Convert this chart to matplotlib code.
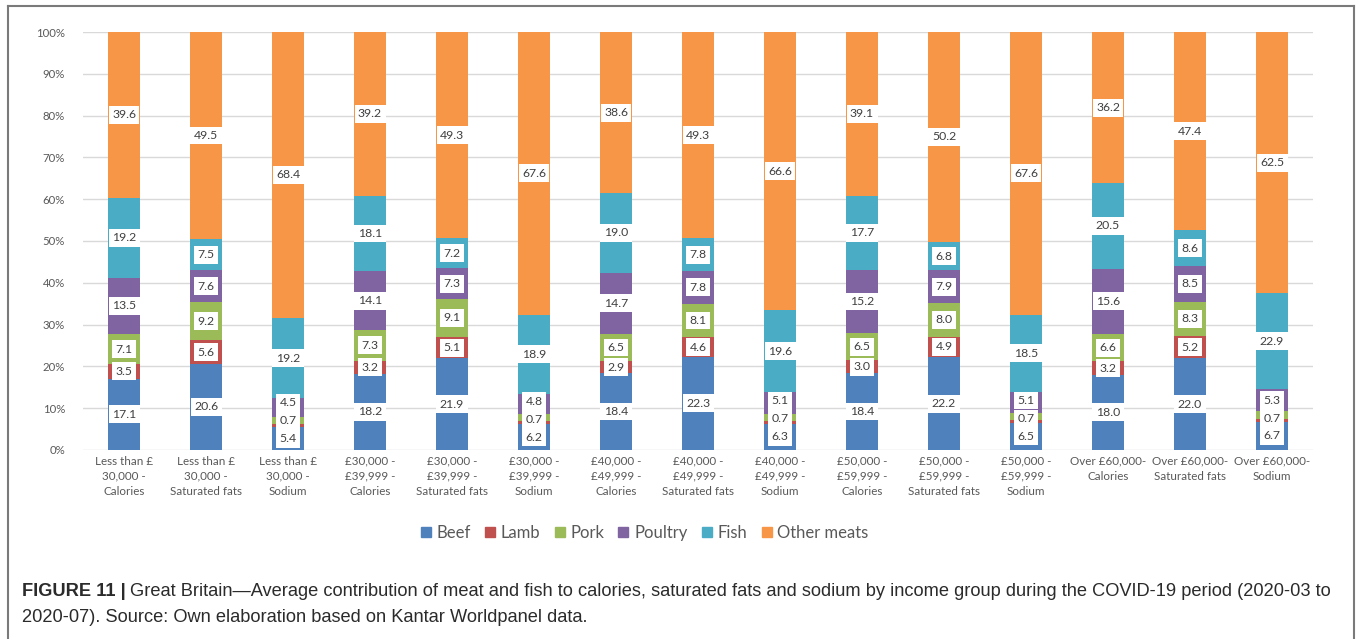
import matplotlib.pyplot as plt
import numpy as np
from matplotlib.patches import Patch
from matplotlib.lines import Line2D

plt.rcParams['font.family'] = ['Lato', 'DejaVu Sans']

groups = ["Less than £\n30,000 -", "£30,000 -\n£39,999 -", "£40,000 -\n£49,999 -",
          "£50,000 -\n£59,999 -", "Over £60,000-"]
nutrients = ["Calories", "Saturated fats", "Sodium"]
categories = [g + "\n" + n for g in groups for n in nutrients]

series = ["Beef", "Lamb", "Pork", "Poultry", "Fish", "Other meats"]
beef = [17.1, 20.6, 5.4, 18.2, 21.9, 6.2, 18.4, 22.3, 6.3, 18.4, 22.2, 6.5, 18.0, 22.0, 6.7]
lamb = [3.5, 5.6, 0.7, 3.2, 5.1, 0.7, 2.9, 4.6, 0.7, 3.0, 4.9, 0.7, 3.2, 5.2, 0.7]
pork = [7.1, 9.2, 1.8, 7.3, 9.1, 1.8, 6.5, 8.1, 1.7, 6.5, 8.0, 1.6, 6.6, 8.3, 1.9]
poultry = [13.5, 7.6, 4.5, 14.1, 7.3, 4.8, 14.7, 7.8, 5.1, 15.2, 7.9, 5.1, 15.6, 8.5, 5.3]
fish = [19.2, 7.5, 19.2, 18.1, 7.2, 18.9, 19.0, 7.8, 19.6, 17.7, 6.8, 18.5, 20.5, 8.6, 22.9]
other = [39.6, 49.5, 68.4, 39.2, 49.3, 67.6, 38.6, 49.3, 66.6, 39.1, 50.2, 67.6, 36.2, 47.4, 62.5]
colors = ["#4f81bd", "#c0504d", "#9bbb59", "#8064a2", "#4bacc6", "#f79646"]

# pork label is not shown on the sodium bars
show_label = np.ones((6, len(categories)), dtype=bool)
show_label[2] = [n != "Sodium" for g in groups for n in nutrients]

data = np.array([beef, lamb, pork, poultry, fish, other])
pct = data / data.sum(axis=0) * 100  # 100% stacked
x = np.arange(len(categories))

fig = plt.figure(figsize=(13.57, 6.39), dpi=100)
ax = fig.add_axes([0.0612, 0.2958, 0.9064, 0.6541])

bottom = np.zeros(len(categories))
for i in range(6):
    ax.bar(x, pct[i], 0.40, bottom=bottom, color=colors[i], zorder=2)
    bottom += pct[i]

# data labels in white boxes, nudged upwards so boxes don't overlap
gap = 4.3
for j in x:
    base = 0.0
    last = -100.0
    for i in range(6):
        c = base + pct[i, j] / 2
        base += pct[i, j]
        if not show_label[i, j]:
            continue
        c = max(c, last + gap)
        last = c
        ax.text(j, c, f"{data[i, j]:.1f}", ha='center', va='center', fontsize=8.8,
                color='#404040', zorder=4,
                bbox=dict(boxstyle='square,pad=0.28', fc='white', ec='none'))

ax.set_xlim(-0.5, len(categories) - 0.5)
ax.set_ylim(0, 100)
ax.set_yticks(np.arange(0, 101, 10))
ax.set_yticklabels([f"{v}%" for v in range(0, 101, 10)], fontsize=8.2, color='#595959')
ax.set_xticks(x)
ax.set_xticklabels(categories, fontsize=8.4, color='#595959', linespacing=1.45)
ax.tick_params(length=0, pad=4)
ax.tick_params(axis='y', pad=13)
ax.grid(axis='y', color='#d9d9d9', lw=1, zorder=0)
for s in ax.spines.values():
    s.set_visible(False)

handles = [Patch(color=c, label=s) for c, s in zip(colors, series)]
fig.legend(handles=handles, loc='center', bbox_to_anchor=(0.475, 0.166), ncol=6,
           frameon=False, fontsize=12, handlelength=0.6, handleheight=0.6,
           handletextpad=0.35, columnspacing=0.85, labelcolor='#595959')

# frame around chart
fr = dict(color='#7a7a7a', lw=1.5, transform=fig.transFigure)
fig.add_artist(Line2D([0.0059, 0.0059], [0, 0.9906], **fr))
fig.add_artist(Line2D([0.0059, 0.9978], [0.9906, 0.9906], **fr))
fig.add_artist(Line2D([0.9978, 0.9978], [0, 0.9906], **fr))

cap = dict(fontsize=13.15, color='#2b2b2b', family=['Liberation Sans', 'DejaVu Sans'])
t1 = fig.text(0.0162, 1 - 591 / 639, "FIGURE 11 |", fontweight='bold', va='center', **cap)
ax.annotate("Great Britain\u2014Average contribution of meat and fish to calories, saturated fats "
            "and sodium by income group during the COVID-19 period (2020-03 to",
            xy=(1, 0.5), xycoords=t1, xytext=(3, 0), textcoords='offset points',
            va='center', annotation_clip=False, **cap)
fig.text(0.0162, 1 - 618 / 639,
         "2020-07). Source: Own elaboration based on Kantar Worldpanel data.",
         va='center', **cap)

fig.savefig("out.png", dpi=100)
